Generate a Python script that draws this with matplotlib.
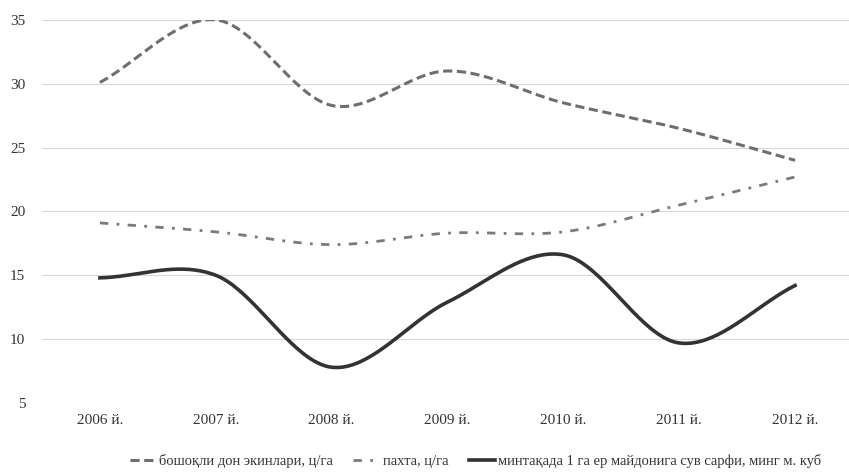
import numpy as np
import matplotlib
matplotlib.use("Agg")
import matplotlib.pyplot as plt
from matplotlib.lines import Line2D

years = ["2006 й.", "2007 й.", "2008 й.", "2009 й.", "2010 й.", "2011 й.", "2012 й."]
grain = [30.1, 35.0, 28.3, 31.0, 28.5, 26.5, 24.0]
cotton = [19.1, 18.4, 17.4, 18.3, 18.4, 20.5, 22.7]
water = [14.8, 15.0, 7.8, 12.9, 16.6, 9.7, 14.2]
labels = ["бошоқли дон экинлари, ц/га", "пахта, ц/га",
          "минтақада 1 га ер майдонига сув сарфи, минг м. куб"]

plt.rcParams['font.family'] = ['Liberation Serif', 'DejaVu Serif']


def smooth(y, n=40):
    # Catmull-Rom spline through the points (Excel-like smoothed line)
    y = np.asarray(y, float)
    x = np.arange(len(y), dtype=float)
    P = np.column_stack([x, y])
    P = np.vstack([2 * P[0] - P[1], P, 2 * P[-1] - P[-2]])
    out = []
    for i in range(1, len(P) - 2):
        p0, p1, p2, p3 = P[i - 1], P[i], P[i + 1], P[i + 2]
        t = np.linspace(0, 1, n, endpoint=(i == len(P) - 3))[:, None]
        seg = 0.5 * ((2 * p1) + (-p0 + p2) * t + (2 * p0 - 5 * p1 + 4 * p2 - p3) * t ** 2
                     + (-p0 + 3 * p1 - 3 * p2 + p3) * t ** 3)
        out.append(seg)
    out = np.vstack(out)
    return out[:, 0], out[:, 1]


fig = plt.figure(figsize=(8.49, 4.73), dpi=100)
ax = fig.add_axes([42 / 849, 0.148, 811 / 849, 0.81])

c_grain = "#6e6e6e"
c_cotton = "#7a7a7a"
c_water = "#333333"

xs, ys = smooth(grain)
ax.plot(xs, ys, color=c_grain, lw=2.2, linestyle=(0, (3, 1.5)))
xs, ys = smooth(cotton)
ax.plot(xs, ys, color=c_cotton, lw=2.0, linestyle=(0, (3, 3, 1, 3)))
xs, ys = smooth(water)
ax.plot(xs, ys, color=c_water, lw=2.6, linestyle="-")

ax.set_xlim(-0.5, 6.5)
ax.set_ylim(5, 35)
ax.set_yticks([5, 10, 15, 20, 25, 30, 35])
ax.set_xticks(range(len(years)))
ax.set_xticklabels(years)
ax.yaxis.grid(True, color="#d8d8d8", lw=0.8)
ax.set_axisbelow(True)
for s in ax.spines.values():
    s.set_visible(False)
ax.tick_params(axis="both", length=0, labelsize=11, colors="#333333")
ax.tick_params(axis="y", pad=12)
ax.tick_params(axis="x", pad=8)

handles = [
    Line2D([], [], color=c_grain, lw=2.2, linestyle=(0, (3, 1.5))),
    Line2D([], [], color=c_cotton, lw=2.0, linestyle=(0, (3, 3, 1, 3))),
    Line2D([], [], color=c_water, lw=2.6),
]
fig.legend(handles, labels, loc="center", bbox_to_anchor=(0.56, 0.025), ncol=3,
           frameon=False, fontsize=10.5, handlelength=1.8, handletextpad=0.2,
           columnspacing=1.4, labelcolor="#333333")

fig.savefig("out.png", dpi=100, facecolor="white")
